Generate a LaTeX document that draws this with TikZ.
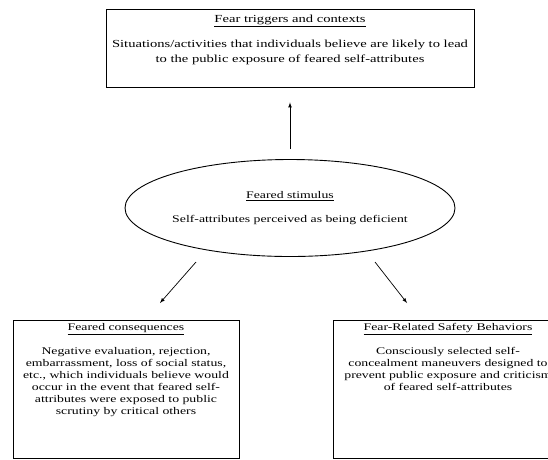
\documentclass[tikz,border=0pt]{standalone}
\usepackage{fontspec}
\setmainfont{Liberation Serif}[FakeStretch=1.35]
\usetikzlibrary{arrows,shapes.geometric,positioning}

\begin{document}
\begin{tikzpicture}[x=1pt,y=-1pt,
    box/.style={draw, line width=0.9pt, inner sep=0pt},
    txt/.style={align=center, inner sep=0pt, font=\fontsize{10.2}{12}\selectfont},
    arr/.style={black, line width=0.7pt, ->, >=latex}]
  \useasboundingbox (0,0) rectangle (548,459);
  \clip (0,0) rectangle (548,459);
  % triggers
  \node [box, minimum width=368, minimum height=78] (trig) at (290,48) {};
  \node [txt, font=\fontsize{10.8}{15}\selectfont, below=6pt of trig.north] (trigtxt)
    {\underline{Fear triggers and contexts}\\[10pt]
     Situations/activities that individuals believe are likely to lead\\
     to the public exposure of feared self-attributes};
  % stimulus
  \node [box, ellipse, minimum width=330, minimum height=97] (stim) at (290,208) {};
  \node [txt] (stimtxt) at (stim.center)
    {\underline{Feared stimulus}\\[12pt]
     Self-attributes perceived as being deficient};
  % consequences
  \node [box, minimum width=226, minimum height=138] (cons) at (126,389) {};
  \node [txt, below=4pt of cons.north] (constxt)
    {\underline{Feared consequences}\\[12pt]
     Negative evaluation, rejection,\\
     embarrassment, loss of social status,\\
     etc., which individuals believe would\\
     occur in the event that feared self-\\
     attributes were exposed to public\\
     scrutiny by critical others};
  % safety behaviors
  \node [box, minimum width=230, minimum height=138] (safe) at (448,389) {};
  \node [txt, below=4pt of safe.north] (safetxt)
    {\underline{Fear-Related Safety Behaviors}\\[12pt]
     Consciously selected self-\\
     concealment maneuvers designed to\\
     prevent public exposure and criticism\\
     of feared self-attributes};
  % arrows
  \coordinate (consfrom) at (196,262);
  \coordinate (consto) at (160,303);
  \coordinate (safefrom) at (375,262);
  \coordinate (safeto) at (407,303);
  \draw [arr] ([yshift=10pt]stim.north) -- ([yshift=-15pt]trig.south);
  \draw [arr] (consfrom) -- (consto);
  \draw [arr] (safefrom) -- (safeto);
\end{tikzpicture}
\end{document}
